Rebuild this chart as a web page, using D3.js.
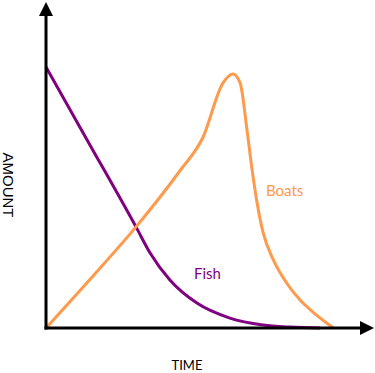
<!DOCTYPE html>
<html>
<head>
<meta charset="utf-8">
<script src="https://cdn.jsdelivr.net/npm/d3@7"></script>
<style>
  body { margin: 0; background: #fff; }
</style>
</head>
<body>
<div class="canvas"></div>
<script>
// values (time 0-100, amount 0-100)
const fishTime = [0, 13.7, 30, 34.7, 41.3, 50.3, 61.3, 72.3, 81.3, 91.3]
const fishAmount = [87, 62.7, 33.7, 25, 16, 8.3, 3.3, 1, 0.3, 0]
const boatTime = [0, 15, 30, 44.7, 52.3, 59, 62.3, 64.7, 67, 68.7, 70.2, 72.4, 75.8, 80.2, 84.7, 90.2, 95.8]
const boatAmount = [0, 16.6, 33.7, 52.5, 63.5, 81.7, 84.7, 81.7, 66, 52.7, 42.7, 31.7, 22.7, 15, 9.3, 4.3, 0]
const seriesNames = ['Fish', 'Boats']
const axisLabels = ['TIME', 'AMOUNT']

const dims = {width: 375, height: 373}
const origin = {x: 46, y: 328}

const svg = d3.select('.canvas')
    .append('svg')
    .attr('width', dims.width)
    .attr('height', dims.height)

const x = d3.scaleLinear().domain([0, 100]).range([origin.x, origin.x + 300])
const y = d3.scaleLinear().domain([0, 100]).range([origin.y, origin.y - 300])

const line = d3.line()
    .x(d => x(d[0]))
    .y(d => y(d[1]))
    .curve(d3.curveMonotoneX)

const fish = d3.zip(fishTime, fishAmount)
const boats = d3.zip(boatTime, boatAmount)

svg.append('path')
    .attr('d', line(fish))
    .attr('fill', 'none')
    .attr('stroke', '#800080')
    .attr('stroke-width', 3)

svg.append('path')
    .attr('d', line(boats))
    .attr('fill', 'none')
    .attr('stroke', '#ff9a4d')
    .attr('stroke-width', 3)

// axes with arrowheads
svg.append('line')
    .attr('x1', origin.x).attr('y1', origin.y + 1.5)
    .attr('x2', origin.x).attr('y2', 14)
    .attr('stroke', '#000').attr('stroke-width', 3)
svg.append('line')
    .attr('x1', origin.x - 1.5).attr('y1', origin.y)
    .attr('x2', 364).attr('y2', origin.y)
    .attr('stroke', '#000').attr('stroke-width', 3)
svg.append('path')
    .attr('d', `M${origin.x - 7},16 L${origin.x},2 L${origin.x + 7},16 Z`)
    .attr('fill', '#000')
svg.append('path')
    .attr('d', `M360,${origin.y - 7} L374,${origin.y} L360,${origin.y + 7} Z`)
    .attr('fill', '#000')

// labels
svg.append('text')
    .attr('x', 194).attr('y', 279)
    .attr('font-family', 'Lato, sans-serif')
    .attr('font-size', 15)
    .attr('fill', '#800080')
    .text(seriesNames[0])
svg.append('text')
    .attr('x', 266).attr('y', 196)
    .attr('font-family', 'Lato, sans-serif')
    .attr('font-size', 15)
    .attr('fill', '#ff9a4d')
    .text(seriesNames[1])

svg.append('text')
    .attr('x', 187).attr('y', 370)
    .attr('text-anchor', 'middle')
    .attr('font-family', 'Lato, sans-serif')
    .attr('font-size', 13)
    .text(axisLabels[0])
svg.append('text')
    .attr('transform', 'translate(3, 185) rotate(90)')
    .attr('text-anchor', 'middle')
    .attr('font-family', 'Liberation Sans, Arial, sans-serif')
    .attr('font-size', 15)
    .text(axisLabels[1])
</script>
</body>
</html>
